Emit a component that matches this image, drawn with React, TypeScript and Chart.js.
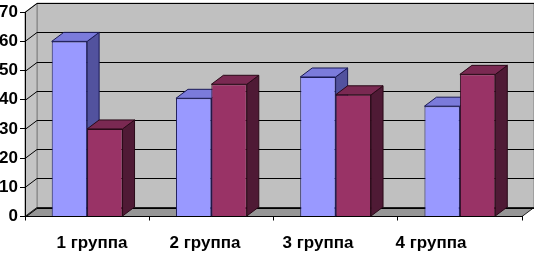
import { useEffect, useRef } from 'react';
import { Chart, registerables } from 'chart.js';

Chart.register(...registerables);

const categories = ['1 группа', '2 группа', '3 группа', '4 группа'];
const series1 = [60, 40.5, 47.8, 37.8];
const series2 = [30, 45.3, 41.7, 48.7];
const yMin = 0;
const yMax = 70;
const yStep = 10;
// label axis range (category labels sit slightly narrower than the bar groups)
const labelMin = -0.593;
const labelMax = 3.805;

const DX = 12;
const DY = -9;

const faceColors = [
  { front: '#9999FF', top: '#7B7BDB', side: '#52529E', edge: '#1A1A55' },
  { front: '#993366', top: '#7A2952', side: '#4F1A35', edge: '#2A0A18' },
];

function poly(ctx: CanvasRenderingContext2D, pts: number[][], fill: string, stroke: string) {
  ctx.beginPath();
  ctx.moveTo(pts[0][0], pts[0][1]);
  for (let i = 1; i < pts.length; i++) ctx.lineTo(pts[i][0], pts[i][1]);
  ctx.closePath();
  ctx.fillStyle = fill;
  ctx.fill();
  ctx.strokeStyle = stroke;
  ctx.lineWidth = 1;
  ctx.stroke();
}

const threeD = {
  id: 'threeD',
  beforeDraw(chart: any) {
    const { ctx, chartArea, scales } = chart;
    const { left, right, top, bottom } = chartArea;
    const y = scales.y;
    ctx.save();
    poly(ctx, [[left + DX, top + DY], [right + DX, top + DY], [right + DX, bottom + DY], [left + DX, bottom + DY]], '#C0C0C0', '#808080');
    poly(ctx, [[left, top], [left + DX, top + DY], [left + DX, bottom + DY], [left, bottom]], '#C4C4C4', '#808080');
    poly(ctx, [[left, bottom], [right, bottom], [right + DX, bottom + DY], [left + DX, bottom + DY]], '#969696', '#202020');
    ctx.strokeStyle = '#000000';
    ctx.lineWidth = 1;
    for (let v = yMin; v <= yMax; v += yStep) {
      const py = Math.round(y.getPixelForValue(v)) + 0.5;
      ctx.beginPath();
      ctx.moveTo(left, py);
      ctx.lineTo(left + DX, py + DY);
      ctx.lineTo(right + DX, py + DY);
      ctx.stroke();
    }
    ctx.restore();
  },
  beforeDatasetsDraw(chart: any) {
    const { ctx } = chart;
    ctx.save();
    for (let i = 0; i < categories.length; i++) {
      for (let d = 0; d < chart.data.datasets.length; d++) {
        const el = chart.getDatasetMeta(d).data[i];
        const { x, y, base, width } = el.getProps(['x', 'y', 'base', 'width'], true);
        const x0 = x - width / 2;
        const x1 = x + width / 2;
        const c = faceColors[d];
        poly(ctx, [[x1, y], [x1 + DX, y + DY], [x1 + DX, base + DY], [x1, base]], c.side, c.edge);
        poly(ctx, [[x0, y], [x1, y], [x1 + DX, y + DY], [x0 + DX, y + DY]], c.top, c.edge);
      }
    }
    ctx.restore();
  },
};

export default function App() {
  const ref = useRef<HTMLCanvasElement | null>(null);
  useEffect(() => {
    if (!ref.current) return;
    const chart = new Chart(ref.current, {
      type: 'bar',
      data: {
        labels: categories,
        datasets: [
          {
            label: 'Ряд 1',
            data: series1,
            backgroundColor: faceColors[0].front,
            borderColor: faceColors[0].edge,
            borderWidth: 1,
            xAxisID: 'x',
          },
          {
            label: 'Ряд 2',
            data: series2,
            backgroundColor: faceColors[1].front,
            borderColor: faceColors[1].edge,
            borderWidth: 1,
            xAxisID: 'x',
          },
        ],
      },
      options: {
        responsive: false,
        animation: false,
        devicePixelRatio: 1,
        layout: { padding: { top: 8, right: 12, left: 0, bottom: 0 } },
        plugins: { legend: { display: false }, tooltip: { enabled: false } },
        datasets: { bar: { barPercentage: 1, categoryPercentage: 0.57 } },
        scales: {
          x: {
            type: 'category',
            weight: 0,
            offset: true,
            grid: { drawOnChartArea: false, tickLength: 4, color: '#000', offset: true },
            border: { color: '#000' },
            ticks: { display: false },
            afterFit: (s: any) => { s.height = 4; },
          },
          x2: {
            type: 'linear',
            position: 'bottom',
            weight: 1,
            offset: false,
            bounds: 'data',
            min: labelMin,
            max: labelMax,
            grid: { display: false, drawTicks: false, offset: false },
            border: { display: false },
            afterBuildTicks: (s: any) => {
              s.ticks = categories.map((_, i) => ({ value: i }));
              s.min = labelMin;
              s.max = labelMax;
            },
            ticks: {
              color: '#000',
              padding: 13,
              maxRotation: 0,
              minRotation: 0,
              autoSkip: false,
              includeBounds: false,
              font: { family: 'Liberation Sans, Arial, sans-serif', size: 17, weight: 'bold' },
              callback: (v: any) => categories[v as number] ?? '',
            },
            afterFit: (s: any) => { s.height = 33.5; },
          },
          y: {
            min: yMin,
            max: yMax,
            ticks: {
              stepSize: yStep,
              color: '#000',
              padding: 2,
              font: { family: 'Liberation Sans, Arial, sans-serif', size: 17, weight: 'bold' },
            },
            grid: { drawOnChartArea: false, tickLength: 5, color: '#000' },
            border: { color: '#000' },
            afterFit: (s: any) => { s.width = 25; },
          },
        },
      },
      plugins: [threeD],
    });
    return () => chart.destroy();
  }, []);
  return (
    <div style={{ position: 'fixed', left: 0, top: 0, width: 534, height: 254, background: '#fff' }}>
      <canvas ref={ref} width={534} height={254} />
    </div>
  );
}
